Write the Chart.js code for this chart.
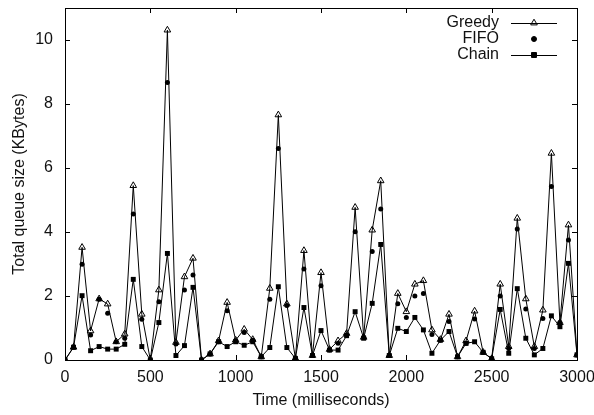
<!DOCTYPE html>
<html>
<head>
<meta charset="utf-8">
<script src="https://cdn.jsdelivr.net/npm/chart.js@4"></script>
<style>
  html, body { margin:0; padding:0; background:#fff; }
  #wrap { width:594px; height:415px; }
</style>
</head>
<body>
<div id="wrap"><canvas id="queueChart" width="594" height="415"></canvas></div>
<script>
  // ---- data (ms, KBytes) ----
  const times = [];
  for (let t = 0; t <= 3000; t += 50) times.push(t);

  const greedy = [0, 0.4, 3.52, 0.91, 1.91, 1.75, 0.57, 0.81, 5.45, 1.43,
    0, 2.19, 10.31, 0.55, 2.6, 3.18, 0, 0.19, 0.6, 1.8,
    0.62, 0.96, 0.64, 0.1, 2.24, 7.66, 1.75, 0.05, 3.42, 0.14,
    2.73, 0.33, 0.6, 0.83, 4.77, 0.71, 4.06, 5.6, 0.14, 2.08,
    1.51, 2.37, 2.48, 0.94, 0.64, 1.43, 0.1, 0.6, 1.53, 0.24,
    0.04, 2.37, 0.42, 4.43, 1.91, 0.42, 1.56, 6.46, 1.17, 4.22, 0.16];
  const fifo = [0, 0.4, 2.99, 0.78, 1.9, 1.46, 0.57, 0.68, 4.56, 1.27,
    0, 1.82, 8.67, 0.5, 2.19, 2.66, 0, 0.19, 0.57, 1.54,
    0.6, 0.86, 0.62, 0.1, 1.9, 6.61, 1.7, 0.05, 2.84, 0.14,
    2.32, 0.31, 0.52, 0.78, 4.01, 0.71, 3.39, 4.72, 0.14, 1.76,
    1.33, 2.0, 2.08, 0.8, 0.62, 1.2, 0.1, 0.52, 1.28, 0.24,
    0.04, 2.0, 0.36, 4.09, 1.59, 0.36, 1.3, 5.42, 1.17, 3.75, 0.16];
  const chain = [0, 0.4, 2.01, 0.29, 0.42, 0.34, 0.34, 0.49, 2.52, 0.42,
    0, 1.17, 3.33, 0.14, 0.45, 2.27, 0, 0.19, 0.57, 0.42,
    0.57, 0.46, 0.57, 0.1, 0.39, 2.29, 0.39, 0.05, 1.64, 0.14,
    0.92, 0.31, 0.31, 0.76, 1.51, 0.68, 1.77, 3.61, 0.14, 0.99,
    0.89, 1.33, 0.94, 0.21, 0.62, 0.89, 0.1, 0.52, 0.57, 0.24,
    0.04, 1.58, 0.21, 2.23, 0.68, 0.16, 0.36, 1.38, 1.04, 3.02, 0.16];

  const xTicks = [0, 500, 1000, 1500, 2000, 2500, 3000];
  const yTicks = [0, 2, 4, 6, 8, 10];

  const pts = arr => arr.map((v, i) => ({ x: times[i], y: v }));
  const FONT = "'Liberation Sans', Arial, Helvetica, sans-serif";
  Chart.defaults.font.family = FONT;
  Chart.defaults.font.size = 16;
  Chart.defaults.color = '#111';

  // gnuplot style frame, inward ticks and key
  const framePlugin = {
    id: 'frame',
    afterDraw(chart) {
      const { ctx, chartArea: a, scales } = chart;
      ctx.save();
      ctx.strokeStyle = '#000';
      ctx.lineWidth = 1;
      ctx.strokeRect(Math.round(a.left) + 0.5, Math.round(a.top) + 0.5,
                     Math.round(a.right - a.left), Math.round(a.bottom - a.top));
      const len = 5;
      ctx.beginPath();
      xTicks.forEach(v => {
        const x = Math.round(scales.x.getPixelForValue(v)) + 0.5;
        ctx.moveTo(x, a.bottom); ctx.lineTo(x, a.bottom - len);
        ctx.moveTo(x, a.top);    ctx.lineTo(x, a.top + len);
      });
      yTicks.forEach(v => {
        const y = Math.round(scales.y.getPixelForValue(v)) + 0.5;
        ctx.moveTo(a.left, y);  ctx.lineTo(a.left + len, y);
        ctx.moveTo(a.right, y); ctx.lineTo(a.right - len, y);
      });
      ctx.stroke();

      // key
      ctx.font = '16px ' + FONT;
      ctx.textAlign = 'right';
      ctx.textBaseline = 'middle';
      chart.data.datasets.forEach((ds, i) => {
        const y = 23 + i * 16;
        ctx.fillStyle = '#111';
        ctx.fillText(ds.label, 499, y);
        if (ds.showLine) {
          ctx.beginPath();
          ctx.moveTo(511, y + 0.5); ctx.lineTo(557, y + 0.5);
          ctx.stroke();
        }
        ctx.fillStyle = ds.pointBackgroundColor;
        ctx.strokeStyle = '#000';
        ctx.lineWidth = 1;
        Chart.helpers.drawPoint(ctx, {
          pointStyle: ds.pointStyle, radius: ds.pointRadius, rotation: 0, borderWidth: 1
        }, 534, y);
      });
      ctx.restore();
    }
  };

  new Chart(document.getElementById('queueChart'), {
    type: 'scatter',
    data: {
      datasets: [
        {
          label: 'Greedy',
          data: pts(greedy),
          showLine: true,
          borderColor: '#000',
          borderWidth: 1,
          pointStyle: 'triangle',
          pointRadius: 3.8,
          pointBorderColor: '#000',
          pointBackgroundColor: 'rgba(255,255,255,0)',
          pointBorderWidth: 1
        },
        {
          label: 'FIFO',
          data: pts(fifo),
          showLine: false,
          pointStyle: 'circle',
          pointRadius: 2.5,
          pointBorderColor: '#000',
          pointBackgroundColor: '#000',
          pointBorderWidth: 0
        },
        {
          label: 'Chain',
          data: pts(chain),
          showLine: true,
          borderColor: '#000',
          borderWidth: 1,
          pointStyle: 'rect',
          pointRadius: 3.5,
          pointBorderColor: '#000',
          pointBackgroundColor: '#000',
          pointBorderWidth: 0
        }
      ]
    },
    options: {
      responsive: false,
      animation: false,
      layout: { padding: { left: 10, right: 17, top: 8, bottom: 0 } },
      plugins: { legend: { display: false }, tooltip: { enabled: false } },
      scales: {
        x: {
          type: 'linear', min: 0, max: 3000,
          afterBuildTicks: s => { s.ticks = xTicks.map(v => ({ value: v })); },
          afterFit: s => { s.height = 55; s.paddingLeft = 0; s.paddingRight = 0; },
          grid: { display: false, drawTicks: false },
          border: { display: false },
          ticks: { padding: 8, color: '#111', maxRotation: 0, callback: v => String(v) },
          title: { display: true, text: 'Time (milliseconds)', color: '#111', padding: { top: 0, bottom: 5 } }
        },
        y: {
          type: 'linear', min: 0, max: 11,
          afterBuildTicks: s => { s.ticks = yTicks.map(v => ({ value: v })); },
          afterFit: s => { s.width = 55; s.paddingTop = 0; s.paddingBottom = 0; },
          grid: { display: false, drawTicks: false },
          border: { display: false },
          ticks: { padding: 12, color: '#111', callback: v => String(v) },
          title: { display: true, text: 'Total queue size (KBytes)', color: '#111', padding: { top: 0, bottom: 4 } }
        }
      }
    },
    plugins: [framePlugin]
  });
</script>
</body>
</html>
